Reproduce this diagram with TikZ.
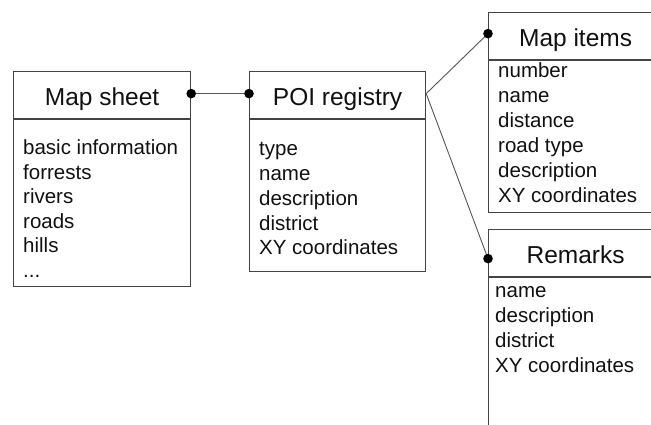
\documentclass[tikz,border=0pt]{standalone}
\usepackage{fontspec}
\setmainfont{Liberation Sans}
\definecolor{edge}{HTML}{444444}
\definecolor{conn}{HTML}{555555}
\definecolor{ink}{HTML}{111111}
\tikzset{
  hdr/.style={draw=edge, line width=1.2pt, inner sep=0pt, anchor=north west,
    font=\fontsize{24.5}{28}\selectfont, text=ink, text height=21pt, text depth=0pt},
  body/.style={draw=edge, line width=1.2pt, inner sep=0pt, anchor=north west},
  item/.style={anchor=base west, inner sep=0pt, font=\fontsize{20.5}{24}\selectfont, text=ink},
  conline/.style={draw=conn, line width=0.9pt},
  dotmark/.style={fill=black, draw=none}
}
\begin{document}
\begin{tikzpicture}[x=1pt, y=-1pt]
\useasboundingbox (0,0) rectangle (651,425);
\clip (0,0) rectangle (651,425);
\fill[white] (0,0) rectangle (651,425);

% Map sheet
\node[hdr, minimum width=177, minimum height=47] (msh) at (13,71) {Map sheet};
\node[body, minimum width=177, minimum height=167] (msb) at (msh.south west) {};
\foreach \t [count=\i] in {basic information, forrests, rivers, roads, hills}
  \node[item] (ms\i) at (23,{155+24.4*(\i-1)}) {\t};
\node[item] (ms6) at (23,{155+24.4*5}) {...};

% POI registry
\node[hdr, minimum width=176, minimum height=47] (poih) at (249,71) {POI registry};
\node[body, minimum width=176, minimum height=152] (poib) at (poih.south west) {};
\foreach \t [count=\i] in {type, name, description, district, XY coordinates}
  \node[item] (poi\i) at (259,{156+24.7*(\i-1)}) {\t};

% Map items
\node[hdr, minimum width=174, minimum height=47] (mih) at (488,12) {Map items};
\node[body, minimum width=174, minimum height=152] (mib) at (mih.south west) {};
\foreach \t [count=\i] in {number, name, distance, road type, description, XY coordinates}
  \node[item] (mi\i) at (498,{78+24.8*(\i-1)}) {\t};

% Remarks
\node[hdr, minimum width=174, minimum height=47] (rmh) at (488,229) {Remarks};
\node[body, minimum width=174, minimum height=175] (rmb) at (rmh.south west) {};
\foreach \t [count=\i] in {name, description, district, XY coordinates}
  \node[item] (rm\i) at (495,{297+25*(\i-1)}) {\t};

% connectors
\coordinate (msd) at ([yshift=1.5pt]msh.east);
\coordinate (poid) at ([yshift=1.5pt]poih.west);
\coordinate (poiR) at ([yshift=1.5pt]poih.east);
\coordinate (mid) at ([yshift=2.5pt]mih.west);
\coordinate (rmd) at ([yshift=-5.5pt]rmh.west);
\draw[conline] (msd) -- (poid);
\draw[conline] (poiR) -- (mid);
\draw[conline] (poiR) -- (rmd);
\foreach \p in {msd, poid, mid, rmd}
  \fill[dotmark] (\p) circle (4.8pt);
\end{tikzpicture}
\end{document}
